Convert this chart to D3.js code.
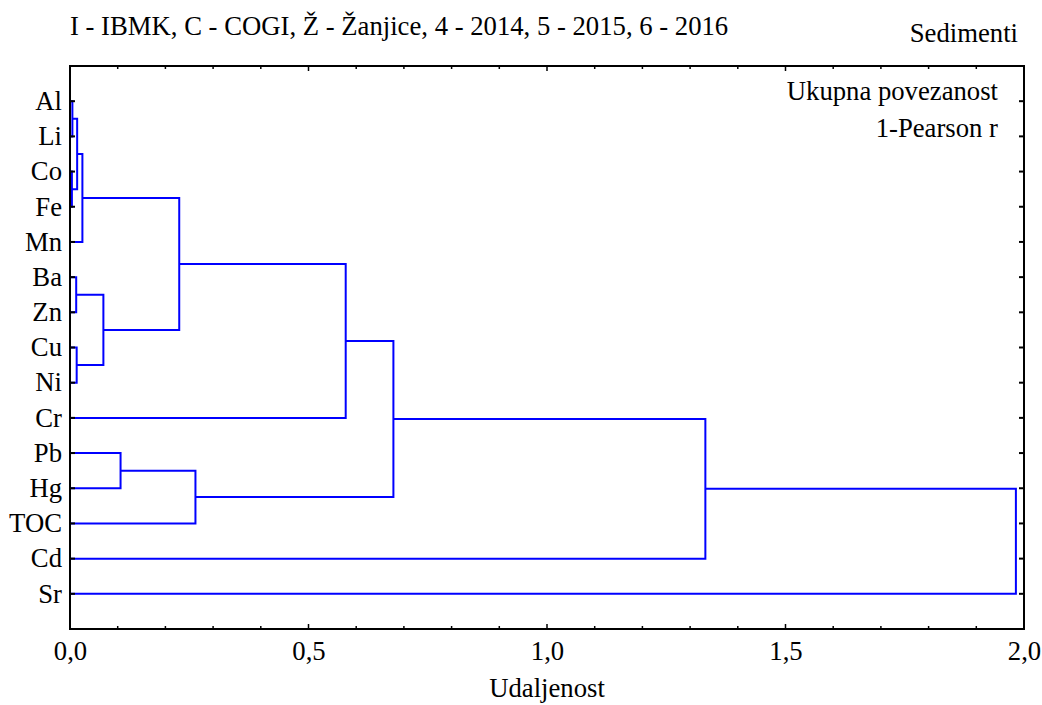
<!DOCTYPE html>
<html><head><meta charset="utf-8">
<script src="https://cdn.jsdelivr.net/npm/d3@7"></script>
<style>body{margin:0;background:#fff}svg{display:block}svg text{font-family:"Liberation Serif","Times New Roman",serif !important;fill:#000}</style>
</head><body>
<svg id="c" width="1042" height="705"></svg>
<script>
const leaves = ["Al","Li","Co","Fe","Mn","Ba","Zn","Cu","Ni","Cr","Pb","Hg","TOC","Cd","Sr"];
// linkage: child indices (0..14 leaves, 15+ clusters in order) and merge distance
const mergeLeft   = [0, 2, 15, 17, 5, 7, 19, 18, 22, 10, 24, 23, 26, 27];
const mergeRight  = [1, 3, 16, 4, 6, 8, 20, 21, 9, 11, 12, 25, 13, 14];
const mergeHeight = [0.005, 0.004, 0.015, 0.026, 0.013, 0.014, 0.070, 0.229, 0.578, 0.106, 0.263, 0.678, 1.332, 1.983];
const xTicks = [0, 0.5, 1.0, 1.5, 2.0];
const titleText = "I - IBMK, C - COGI, Ž - Žanjice, 4 - 2014, 5 - 2015, 6 - 2016";
const cornerText = "Sedimenti";
const noteLines = ["Ukupna povezanost", "1-Pearson r"];
const xTitle = "Udaljenost";

const FONT = "Liberation Serif";
const FS = 26.7;
const L = 70, R = 1024, T = 66, B = 629;
const svg = d3.select("#c");
const x = d3.scaleLinear().domain([0, 2]).range([L, R]);
const y = d3.scaleLinear().domain([0, leaves.length + 1]).range([T, B]);
const fmt = v => d3.format(".1f")(v).replace(".", ",");

// node positions
const nodeY = leaves.map((d, i) => y(i + 1));
const nodeH = leaves.map(() => 0);
const g = svg.append("g");
mergeLeft.forEach((a, k) => {
  const b = mergeRight[k], h = mergeHeight[k];
  const ya = nodeY[a], yb = nodeY[b];
  const p = d3.path();
  p.moveTo(x(nodeH[a]), ya);
  p.lineTo(x(h), ya);
  p.lineTo(x(h), yb);
  p.lineTo(x(nodeH[b]), yb);
  g.append("path").attr("d", p.toString()).attr("fill", "none")
    .attr("stroke", "#0000ff").attr("stroke-width", 2);
  nodeY.push((ya + yb) / 2);
  nodeH.push(h);
});

// frame
svg.append("rect").attr("x", L).attr("y", T).attr("width", R - L).attr("height", B - T)
  .attr("fill", "none").attr("stroke", "#000").attr("stroke-width", 2);

// x axis ticks
const minor = d3.range(0, 2.0001, 0.1);
minor.forEach(v => {
  const major = Math.abs(v * 2 - Math.round(v * 2)) < 1e-6;
  const len = major ? 5 : 3;
  svg.append("line").attr("x1", x(v)).attr("x2", x(v)).attr("y1", B).attr("y2", B - len).attr("stroke", "#000").attr("stroke-width", 1.5);
  svg.append("line").attr("x1", x(v)).attr("x2", x(v)).attr("y1", T).attr("y2", T + len).attr("stroke", "#000").attr("stroke-width", 1.5);
});
const xa = svg.append("g").attr("transform", `translate(0,${B})`)
  .call(d3.axisBottom(x).tickValues(xTicks).tickFormat(fmt).tickSize(0).tickPadding(12));
xa.attr("font-family", FONT).attr("font-size", FS);
xa.select(".domain").remove();
xa.selectAll("text").attr("font-size", FS).attr("font-family", FONT).attr("fill", "#000");

// y axis
leaves.forEach((d, i) => {
  const yy = y(i + 1);
  svg.append("line").attr("x1", L).attr("x2", L + 5).attr("y1", yy).attr("y2", yy).attr("stroke", "#000").attr("stroke-width", 2);
  svg.append("line").attr("x1", R).attr("x2", R - 5).attr("y1", yy).attr("y2", yy).attr("stroke", "#000").attr("stroke-width", 2);
  svg.append("text").attr("x", L - 8).attr("y", yy).attr("dy", "0.33em").attr("text-anchor", "end")
    .attr("font-family", FONT).attr("font-size", FS).text(d);
});

const txt = (xx, yy, anchor, t) => svg.append("text").attr("x", xx).attr("y", yy)
  .attr("text-anchor", anchor).attr("font-family", FONT).attr("font-size", FS).text(t);
txt(70, 35, "start", titleText);
txt(1018, 42, "end", cornerText);
noteLines.forEach((t, i) => txt(998, 100 + i * 36.5, "end", t));
txt((L + R) / 2, 697, "middle", xTitle);
</script>
</body></html>
